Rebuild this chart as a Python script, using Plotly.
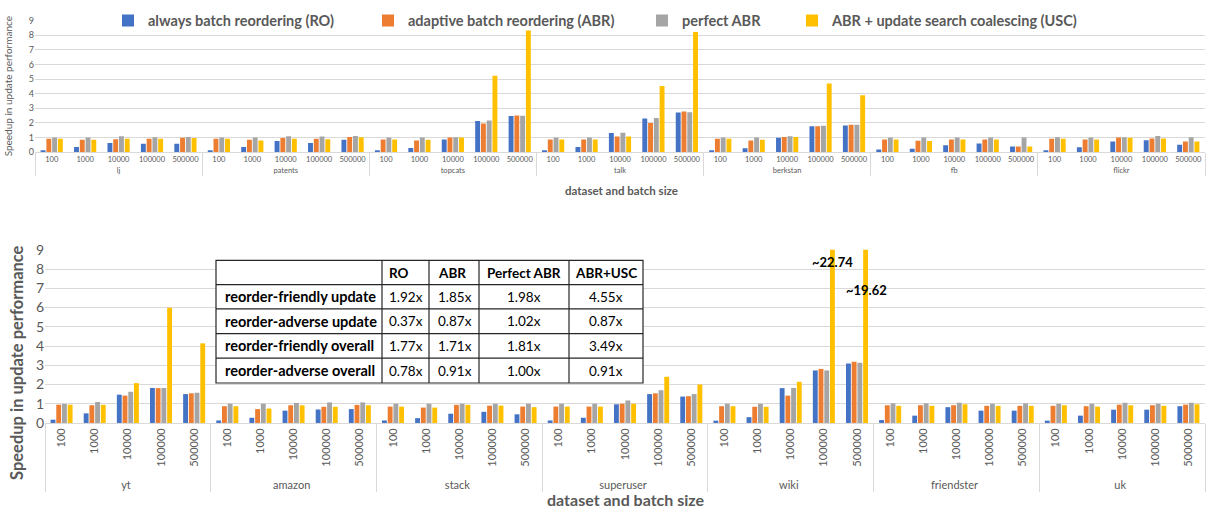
import plotly.graph_objects as go

# ---- categories ----
batch_sizes = ["100", "1000", "10000", "100000", "500000"]
top_datasets = ["lj", "patents", "topcats", "talk", "berkstan", "fb", "flickr"]
bottom_datasets = ["yt", "amazon", "stack", "superuser", "wiki", "friendster", "uk"]

series_names = [
    "always batch reordering (RO)",
    "adaptive batch reordering (ABR)",
    "perfect ABR",
    "ABR + update search coalescing (USC)",
]
series_colors = ["#4472C4", "#ED7D31", "#A5A5A5", "#FFC000"]

# ---- top panel speedups (dataset-major, 5 batch sizes each) ----
top_ro = [0.13, 0.36, 0.62, 0.58, 0.58,
          0.13, 0.36, 0.76, 0.62, 0.84,
          0.13, 0.29, 0.87, 2.13, 2.47,
          0.13, 0.36, 1.31, 2.31, 2.71,
          0.13, 0.27, 0.98, 1.78, 1.82,
          0.18, 0.24, 0.47, 0.60, 0.38,
          0.13, 0.33, 0.73, 0.82, 0.51]
top_abr = [0.91, 0.84, 0.89, 0.91, 0.98,
           0.91, 0.84, 0.96, 0.91, 1.04,
           0.87, 0.80, 1.00, 1.96, 2.51,
           0.87, 0.87, 1.07, 2.00, 2.78,
           0.91, 0.80, 1.04, 1.78, 1.87,
           0.87, 0.78, 0.87, 0.87, 0.38,
           0.91, 0.87, 1.00, 0.93, 0.73]
top_perfect = [1.00, 1.00, 1.09, 1.02, 1.04,
               1.00, 1.00, 1.09, 1.07, 1.11,
               1.00, 1.00, 1.02, 2.16, 2.49,
               1.00, 1.00, 1.33, 2.33, 2.73,
               1.00, 1.00, 1.09, 1.80, 1.87,
               1.00, 1.00, 1.00, 1.00, 1.00,
               1.02, 1.00, 1.02, 1.11, 1.02]
top_usc = [0.91, 0.84, 0.91, 0.91, 0.96,
           0.91, 0.80, 0.91, 0.89, 1.02,
           0.87, 0.84, 1.00, 5.22, 8.33,
           0.87, 0.87, 1.07, 4.52, 8.22,
           0.91, 0.84, 1.04, 4.70, 3.90,
           0.87, 0.76, 0.87, 0.87, 0.38,
           0.91, 0.87, 0.98, 0.93, 0.73]

# ---- bottom panel speedups ----
bottom_ro = [0.17, 0.50, 1.47, 1.82, 1.50,
             0.13, 0.27, 0.64, 0.70, 0.72,
             0.13, 0.25, 0.48, 0.58, 0.45,
             0.13, 0.27, 0.97, 1.50, 1.37,
             0.12, 0.30, 1.81, 2.73, 3.09,
             0.15, 0.38, 0.82, 0.64, 0.64,
             0.12, 0.38, 0.69, 0.69, 0.87]
bottom_abr = [0.95, 0.92, 1.42, 1.81, 1.54,
              0.87, 0.72, 0.92, 0.84, 0.94,
              0.85, 0.80, 0.94, 0.90, 0.85,
              0.85, 0.85, 1.00, 1.54, 1.39,
              0.87, 0.84, 1.42, 2.81, 3.18,
              0.92, 0.92, 0.92, 0.89, 0.89,
              0.89, 0.87, 0.95, 0.92, 0.95]
bottom_perfect = [0.99, 1.09, 1.62, 1.82, 1.57,
                  1.00, 1.00, 1.04, 1.07, 1.07,
                  1.00, 1.00, 1.00, 1.00, 1.00,
                  1.00, 1.00, 1.17, 1.70, 1.50,
                  1.00, 1.00, 1.82, 2.73, 3.13,
                  1.02, 1.02, 1.05, 1.00, 1.02,
                  1.00, 1.00, 1.05, 1.00, 1.05]
bottom_usc = [0.95, 0.94, 2.07, 5.99, 4.14,
              0.87, 0.75, 0.92, 0.84, 0.92,
              0.85, 0.80, 0.94, 0.90, 0.82,
              0.85, 0.85, 1.00, 2.40, 2.00,
              0.87, 0.84, 2.14, 22.74, 19.62,
              0.89, 0.89, 0.97, 0.89, 0.89,
              0.92, 0.85, 0.92, 0.89, 0.97]

# ---- summary table ----
table_header = ["", "RO", "ABR", "Perfect ABR", "ABR+USC"]
table_rows = ["reorder-friendly update", "reorder-adverse update",
              "reorder-friendly overall", "reorder-adverse overall"]
table_ro = ["1.92x", "0.37x", "1.77x", "0.78x"]
table_abr = ["1.85x", "0.87x", "1.71x", "0.91x"]
table_perfect = ["1.98x", "1.02x", "1.81x", "1.00x"]
table_usc = ["4.55x", "0.87x", "3.49x", "0.91x"]

W, H = 1208, 518
FONT = "Lato"
GRAY = "#595959"
GRID = "#D9D9D9"


def px_x(p):
    return p / W


def px_y(p):
    return 1 - p / H


def multicat(datasets):
    outer = [d for d in datasets for _ in batch_sizes]
    inner = [b for _ in datasets for b in batch_sizes]
    return [outer, inner]


top_x = multicat(top_datasets)
bottom_x = multicat(bottom_datasets)
top_series = [top_ro, top_abr, top_perfect, top_usc]
bottom_series = [bottom_ro, bottom_abr, bottom_perfect, bottom_usc]
legend_ids = ["legend", "legend2", "legend3", "legend4"]

fig = go.Figure()
for i in range(4):
    fig.add_trace(go.Bar(
        x=top_x, y=top_series[i], name=series_names[i],
        marker=dict(color=series_colors[i], line=dict(width=0)),
        xaxis="x", yaxis="y", legend=legend_ids[i], showlegend=True,
    ))
for i in range(4):
    fig.add_trace(go.Bar(
        x=bottom_x, y=bottom_series[i], name=series_names[i],
        marker=dict(color=series_colors[i], line=dict(width=0)),
        xaxis="x2", yaxis="y2", showlegend=False,
    ))

annotations = []
shapes = []

# ---- summary table drawn over the lower panel ----
col_edges = [216, 382, 429, 479, 569, 643]      # px
row_edges = [260, 285, 310, 335.7, 361, 386.7]  # px
col_align = ["left", "left", "left", "center", "center"]
col_pad = [7, 5, 7, 0, 0]

shapes.append(dict(type="rect", xref="paper", yref="paper",
                   x0=px_x(col_edges[0]), x1=px_x(col_edges[-1]),
                   y0=px_y(row_edges[-1]), y1=px_y(row_edges[0]),
                   fillcolor="white", line=dict(color="#262626", width=1.2),
                   layer="above"))
for cx in col_edges[1:-1]:
    shapes.append(dict(type="line", xref="paper", yref="paper",
                       x0=px_x(cx), x1=px_x(cx),
                       y0=px_y(row_edges[-1]), y1=px_y(row_edges[0]),
                       line=dict(color="#262626", width=1.2), layer="above"))
for ry in row_edges[1:-1]:
    shapes.append(dict(type="line", xref="paper", yref="paper",
                       x0=px_x(col_edges[0]), x1=px_x(col_edges[-1]),
                       y0=px_y(ry), y1=px_y(ry),
                       line=dict(color="#262626", width=1.2), layer="above"))

table_cols = [table_rows, table_ro, table_abr, table_perfect, table_usc]
table_grid = [table_header] + [[table_cols[c][r] for c in range(5)] for r in range(4)]
for r, row in enumerate(table_grid):
    yc = (row_edges[r] + row_edges[r + 1]) / 2
    for c, txt in enumerate(row):
        if not txt:
            continue
        bold = (r == 0) or (c == 0)
        if col_align[c] == "left":
            xp, xa = col_edges[c] + col_pad[c], "left"
        else:
            xp, xa = (col_edges[c] + col_edges[c + 1]) / 2, "center"
        annotations.append(dict(
            x=px_x(xp), y=px_y(yc), xref="paper", yref="paper",
            xanchor=xa, yanchor="middle", showarrow=False,
            text="<b>%s</b>" % txt if bold else txt,
            font=dict(family=FONT, size=14.5 if c == 0 else 13.5, color="black"),
        ))

# values of the clipped wiki bars
wiki_idx = bottom_datasets.index("wiki") * len(batch_sizes)
for bs, ylab in [("100000", 8.35), ("500000", 6.9)]:
    j = wiki_idx + batch_sizes.index(bs)
    annotations.append(dict(
        x=j, y=ylab, xref="x2", yref="y2", xshift=9,
        xanchor="center", yanchor="middle",
        text="<b>~%.2f</b>" % bottom_usc[j], showarrow=False,
        font=dict(family=FONT, size=13, color="black"),
    ))

# axis titles
annotations += [
    dict(x=px_x(8), y=px_y(80), xref="paper", yref="paper",
         xanchor="center", yanchor="middle",
         text="Speedup in update performance", textangle=-90, showarrow=False,
         font=dict(family=FONT, size=10, color=GRAY)),
    dict(x=px_x(17), y=px_y(366), xref="paper", yref="paper",
         xanchor="center", yanchor="middle",
         text="<b>Speedup in update performance</b>", textangle=-90, showarrow=False,
         font=dict(family=FONT, size=16.5, color=GRAY)),
    dict(x=px_x(621), y=px_y(188), xref="paper", yref="paper",
         xanchor="center", yanchor="middle",
         text="<b>dataset and batch size</b>", showarrow=False,
         font=dict(family=FONT, size=11.5, color=GRAY)),
    dict(x=px_x(626), y=px_y(507), xref="paper", yref="paper",
         xanchor="center", yanchor="middle",
         text="<b>dataset and batch size</b>", showarrow=False,
         font=dict(family=FONT, size=16, color=GRAY)),
]

legend_text_x = [142, 402, 676, 826]
legend_common = dict(
    orientation="h", yanchor="middle", y=px_y(12), xanchor="left",
    bgcolor="rgba(0,0,0,0)", borderwidth=0,
    font=dict(family=FONT, size=14.5, color=GRAY, weight="bold"),
)
legends = {}
for lid, tx in zip(legend_ids, legend_text_x):
    legends[lid] = dict(legend_common, x=px_x(tx - 34))

common_x = dict(
    type="multicategory", showgrid=False, showline=True, linecolor=GRID,
    linewidth=1, ticks="", showdividers=True, dividercolor=GRID,
    dividerwidth=1, zeroline=False,
)
common_y = dict(
    range=[0, 9], dtick=1, showgrid=True, gridcolor=GRID, gridwidth=1,
    zeroline=False, showline=False, ticks="",
)

fig.update_layout(
    width=W, height=H, margin=dict(l=0, r=0, t=0, b=0),
    paper_bgcolor="white", plot_bgcolor="white",
    barmode="group", bargap=0.31, bargroupgap=0.15,
    font=dict(family=FONT, color=GRAY),
    xaxis=dict(common_x, domain=[px_x(35), px_x(1205)], anchor="y",
               tickfont=dict(family=FONT, size=7.5, color=GRAY), tickangle=0),
    yaxis=dict(common_y, domain=[px_y(148), px_y(12)], anchor="x",
               tickfont=dict(family=FONT, size=9, color=GRAY), ticklabelstandoff=0),
    xaxis2=dict(common_x, domain=[px_x(45), px_x(1205)], anchor="y2",
                tickfont=dict(family=FONT, size=11, color=GRAY), tickangle=-90),
    yaxis2=dict(common_y, domain=[px_y(428), px_y(249)], anchor="x2",
                tickfont=dict(family=FONT, size=14, color=GRAY)),
    annotations=annotations,
    shapes=shapes,
    **legends,
)

fig.write_html("out.html")
